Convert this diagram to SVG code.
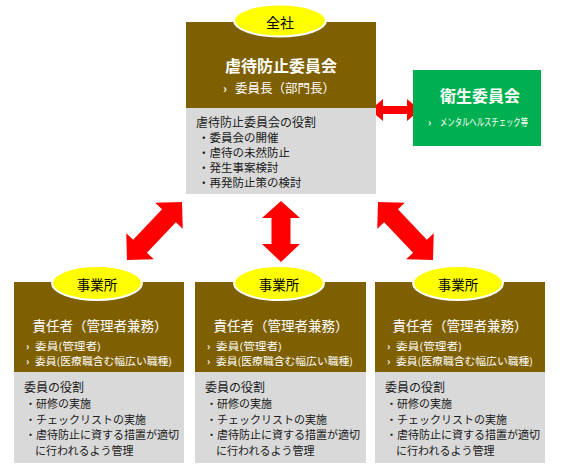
<svg xmlns="http://www.w3.org/2000/svg" xmlns:xlink="http://www.w3.org/1999/xlink" width="564" height="472" viewBox="0 0 564 472">
<style>
text{font-family:"Noto Sans CJK JP","Noto Sans",sans-serif;}
.brown{fill:#7F6000;}
.gray{fill:#D9D9D9;}
.oval{fill:#FFFF00;stroke:#FFFFFF;stroke-width:2;}
.ovt{font-size:13.5px;fill:#000;text-anchor:middle;}
.title{fill:#FFFFFF;font-weight:bold;text-anchor:middle;}
.sub{fill:#FFFFFF;}
.chev{fill:#FFFFFF;font-size:10px;font-weight:bold;}
.line{fill:#FFFFFF;font-size:10px;}
.body{fill:#1a1a1a;}
.arrow{fill:#FF0000;}
</style>
<defs>
<path id="diag" d="M-40,0 L-21,-19 L-21,-9.5 L21,-9.5 L21,-19 L40,0 L21,19 L21,9.5 L-21,9.5 L-21,19 Z"/>
</defs>
<rect width="564" height="472" fill="#FFFFFF"/>
<g id="connectors" class="arrow">
<path d="M370,110 L383,99 L383,106 L407,106 L407,99 L420,110 L407,121 L407,114 L383,114 L383,121 Z"/>
<path d="M281,201 L300,218 L290.5,218 L290.5,244 L300,244 L281,262 L262,244 L271.5,244 L271.5,218 L262,218 Z"/>
<use xlink:href="#diag" transform="translate(154.5,231) rotate(-46.5)"/>
<use xlink:href="#diag" transform="translate(405.5,231) rotate(46.5)"/>
</g>
<g id="zensha">
<rect class="brown" x="186" y="22" width="190" height="86"/>
<rect class="gray" x="186" y="108" width="190" height="86"/>
<ellipse class="oval" cx="280" cy="20.5" rx="46" ry="16"/>
<text class="ovt" x="280" y="28" style="font-size:14px">全社</text>
<text class="title" x="281" y="72" style="font-size:16px">虐待防止委員会</text>
<text class="chev" x="223" y="93" style="font-size:12px">›</text>
<text class="sub" x="235" y="93" style="font-size:12.5px">委員長（部門長）</text>
<text class="body" x="196" y="127" style="font-size:12px">虐待防止委員会の役割</text>
<text class="body" x="198" y="142" style="font-size:11.5px">・委員会の開催</text>
<text class="body" x="198" y="157" style="font-size:11.5px">・虐待の未然防止</text>
<text class="body" x="198" y="172" style="font-size:11.5px">・発生事案検討</text>
<text class="body" x="198" y="187" style="font-size:11.5px">・再発防止策の検討</text>
</g>
<g id="eisei">
<rect x="413" y="70" width="128" height="76" fill="#00B050"/>
<text class="title" x="480" y="102" style="font-size:16px">衛生委員会</text>
<text class="chev" x="428" y="126">›</text>
<text class="sub" transform="translate(440,126) scale(0.7,1)" style="font-size:10.5px">メンタルヘルスチェック等</text>
</g>
<g id="jigyosho1">
<rect class="brown" x="14" y="282" width="170" height="90"/>
<rect class="gray" x="14" y="372" width="170" height="91"/>
<ellipse class="oval" cx="97" cy="283" rx="45" ry="17"/>
<text class="ovt" x="97" y="290">事業所</text>
<text class="title" x="100" y="331" style="font-size:13.5px;font-weight:normal">責任者（管理者兼務）</text>
<text class="chev" x="26" y="350">›</text>
<text class="line" x="35" y="350" textLength="66" lengthAdjust="spacingAndGlyphs">委員(管理者)</text>
<text class="chev" x="26" y="365">›</text>
<text class="line" x="35" y="365" textLength="137" lengthAdjust="spacingAndGlyphs">委員(医療職含む幅広い職種)</text>
<text class="body" x="24" y="392" style="font-size:12px">委員の役割</text>
<text class="body" x="25" y="408" style="font-size:11px">・研修の実施</text>
<text class="body" x="25" y="424" style="font-size:11px">・チェックリストの実施</text>
<text class="body" x="25" y="439" style="font-size:11px">・虐待防止に資する措置が適切</text>
<text class="body" x="35" y="455" style="font-size:11px">に行われるよう管理</text>
</g>
<g id="jigyosho2">
<rect class="brown" x="195" y="282" width="171" height="90"/>
<rect class="gray" x="195" y="372" width="171" height="91"/>
<ellipse class="oval" cx="279" cy="283" rx="45" ry="17"/>
<text class="ovt" x="279" y="290">事業所</text>
<text class="title" x="281" y="331" style="font-size:13.5px;font-weight:normal">責任者（管理者兼務）</text>
<text class="chev" x="207" y="350">›</text>
<text class="line" x="216" y="350" textLength="66" lengthAdjust="spacingAndGlyphs">委員(管理者)</text>
<text class="chev" x="207" y="365">›</text>
<text class="line" x="216" y="365" textLength="137" lengthAdjust="spacingAndGlyphs">委員(医療職含む幅広い職種)</text>
<text class="body" x="205" y="392" style="font-size:12px">委員の役割</text>
<text class="body" x="206" y="408" style="font-size:11px">・研修の実施</text>
<text class="body" x="206" y="424" style="font-size:11px">・チェックリストの実施</text>
<text class="body" x="206" y="439" style="font-size:11px">・虐待防止に資する措置が適切</text>
<text class="body" x="216" y="455" style="font-size:11px">に行われるよう管理</text>
</g>
<g id="jigyosho3">
<rect class="brown" x="375" y="282" width="170" height="90"/>
<rect class="gray" x="375" y="372" width="170" height="91"/>
<ellipse class="oval" cx="458" cy="283" rx="45" ry="17"/>
<text class="ovt" x="458" y="290">事業所</text>
<text class="title" x="460" y="331" style="font-size:13.5px;font-weight:normal">責任者（管理者兼務）</text>
<text class="chev" x="387" y="350">›</text>
<text class="line" x="396" y="350" textLength="66" lengthAdjust="spacingAndGlyphs">委員(管理者)</text>
<text class="chev" x="387" y="365">›</text>
<text class="line" x="396" y="365" textLength="137" lengthAdjust="spacingAndGlyphs">委員(医療職含む幅広い職種)</text>
<text class="body" x="385" y="392" style="font-size:12px">委員の役割</text>
<text class="body" x="386" y="408" style="font-size:11px">・研修の実施</text>
<text class="body" x="386" y="424" style="font-size:11px">・チェックリストの実施</text>
<text class="body" x="386" y="439" style="font-size:11px">・虐待防止に資する措置が適切</text>
<text class="body" x="396" y="455" style="font-size:11px">に行われるよう管理</text>
</g>
</svg>
